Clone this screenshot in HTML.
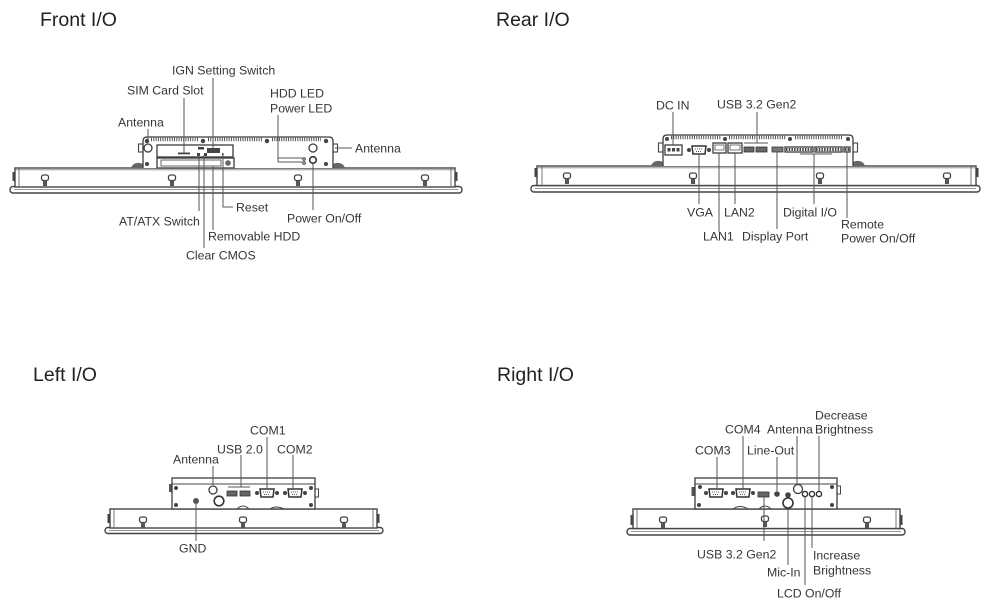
<!DOCTYPE html>
<html><head><meta charset="utf-8"><style>
html,body{margin:0;padding:0;background:#fff;}
svg{display:block;}
.t{font-family:"Liberation Sans",Arial,sans-serif;font-size:12.3px;fill:#363636;}
.h{font-family:"Liberation Sans",Arial,sans-serif;font-size:19.5px;fill:#222;}
.ln{stroke:#555;stroke-width:1;fill:none;}
.ol{stroke:#3c3c3c;stroke-width:1.3;fill:#fff;}
.bz{stroke:#444;stroke-width:1.4;fill:#fff;}
.dk{fill:#444;}
.fin{stroke:#555;stroke-width:3.5;stroke-dasharray:1 1.3;fill:none;}
</style></head><body>
<svg width="1000" height="610" viewBox="0 0 1000 610" xmlns="http://www.w3.org/2000/svg">
<defs>
<g id="knob"><rect x="-3.5" y="0" width="7" height="5.5" rx="2" fill="#fff" stroke="#444" stroke-width="1.3"/><rect x="-2" y="5.5" width="4" height="5.5" fill="#555"/></g>
<g id="dsub"><circle cx="-10" cy="0" r="2" fill="#444"/><circle cx="10" cy="0" r="2" fill="#444"/><path d="M-7,-4 H7 L6,4 H-6 Z" fill="#fff" stroke="#333" stroke-width="1.5"/><line x1="-4" y1="-1" x2="4" y2="-1" stroke="#555" stroke-dasharray="1 1"/><line x1="-3" y1="1.5" x2="3" y2="1.5" stroke="#555" stroke-dasharray="1 1"/></g>
</defs>

<!-- Titles -->
<text class="h" x="40" y="26">Front I/O</text>
<text class="h" x="496" y="26">Rear I/O</text>
<text class="h" x="33" y="381">Left I/O</text>
<text class="h" x="497" y="381">Right I/O</text>

<!-- ================= FRONT ================= -->
<rect x="10" y="186.5" width="452" height="6.5" rx="3" class="bz"/>
<line x1="14" y1="189.5" x2="458" y2="189.5" stroke="#777" stroke-width="0.8"/>
<rect x="15" y="168" width="440" height="19" class="bz"/>
<line x1="15" y1="169.8" x2="455" y2="169.8" stroke="#888" stroke-width="0.8"/>
<line x1="19" y1="168" x2="19" y2="187" stroke="#666" stroke-width="0.9"/>
<line x1="451" y1="168" x2="451" y2="187" stroke="#666" stroke-width="0.9"/>
<rect x="12.5" y="172" width="2.5" height="9" class="dk"/>
<rect x="455" y="172" width="2.5" height="9" class="dk"/>
<use href="#knob" x="45" y="175"/><use href="#knob" x="172" y="175"/>
<use href="#knob" x="298" y="175"/><use href="#knob" x="425" y="175"/>
<!-- box -->
<path d="M131,168 Q133,162 140,163 L143,164 V168 Z" fill="#666"/>
<path d="M345,168 Q343,162 336,163 L333,164 V168 Z" fill="#666"/>
<rect x="138.5" y="144" width="4.5" height="8" fill="#fff" stroke="#444" stroke-width="1.1"/>
<rect x="333" y="144" width="4.5" height="8" fill="#fff" stroke="#444" stroke-width="1.1"/>
<path d="M143,168 V141 Q143,137 147,137 H329 Q333,137 333,141 V168" class="ol"/>
<line x1="151" y1="139.5" x2="199" y2="139.5" class="fin"/>
<line x1="208" y1="139.5" x2="262" y2="139.5" class="fin"/>
<line x1="272" y1="139.5" x2="321" y2="139.5" class="fin"/>
<circle cx="147" cy="141" r="2.2" class="dk"/><circle cx="203" cy="141" r="2.2" class="dk"/>
<circle cx="267" cy="141" r="2.2" class="dk"/><circle cx="326" cy="141" r="2.2" class="dk"/>
<circle cx="147" cy="164" r="2" class="dk"/><circle cx="326" cy="164" r="2" class="dk"/>
<rect x="157" y="145" width="76" height="12" class="ol"/>
<rect x="178" y="152.5" width="12" height="1.8" class="dk"/>
<rect x="207" y="148" width="13" height="5" class="dk"/>
<rect x="198" y="147" width="6" height="2.5" class="dk"/>
<rect x="197" y="153" width="3" height="3" class="dk"/><rect x="204" y="153" width="3" height="3" class="dk"/>
<rect x="222" y="153" width="1.5" height="2.5" class="dk"/>
<rect x="157" y="158" width="77" height="10" class="ol"/>
<rect x="161" y="160" width="60" height="6" fill="none" stroke="#555" stroke-width="0.9"/>
<circle cx="228" cy="163" r="2.8" fill="#666"/>
<circle cx="148" cy="148" r="4" class="ol"/>
<circle cx="313" cy="148" r="4" class="ol"/>
<circle cx="304" cy="159" r="1.3" fill="none" stroke="#333"/>
<circle cx="304" cy="163" r="1.3" fill="none" stroke="#333"/>
<circle cx="313" cy="160" r="3.3" fill="#fff" stroke="#333" stroke-width="1.6"/>
<path class="ln" d="M148,129 V140 M184,98 V153 M213,78 V148 M278,115 V162 M278,158 H302 M278,162 H302 M335,148 H352 M223,155 V207 H233 M199,155 V211 M213,166 V230 M204,155 V248 M313,164 V210"/>
<text class="t" x="172" y="74.5">IGN Setting Switch</text>
<text class="t" x="127" y="94.5">SIM Card Slot</text>
<text class="t" x="270" y="97.5">HDD LED</text>
<text class="t" x="270" y="112.5">Power LED</text>
<text class="t" x="118" y="126.5">Antenna</text>
<text class="t" x="355" y="152.5">Antenna</text>
<text class="t" x="236" y="211.5">Reset</text>
<text class="t" x="287" y="222.5">Power On/Off</text>
<text class="t" x="119" y="225.5">AT/ATX Switch</text>
<text class="t" x="208" y="240.5">Removable HDD</text>
<text class="t" x="186" y="259.5">Clear CMOS</text>

<!-- ================= REAR ================= -->
<rect x="531" y="185.5" width="449" height="6.5" rx="3" class="bz"/>
<line x1="535" y1="188.5" x2="976" y2="188.5" stroke="#777" stroke-width="0.8"/>
<rect x="537" y="166" width="439" height="19.5" class="bz"/>
<line x1="537" y1="167.8" x2="976" y2="167.8" stroke="#888" stroke-width="0.8"/>
<line x1="542" y1="166" x2="542" y2="185.5" stroke="#666" stroke-width="0.9"/>
<line x1="971" y1="166" x2="971" y2="185.5" stroke="#666" stroke-width="0.9"/>
<rect x="534.5" y="168" width="2.5" height="9" class="dk"/>
<rect x="976" y="168" width="2.5" height="9" class="dk"/>
<use href="#knob" x="567" y="173"/><use href="#knob" x="693" y="173"/>
<use href="#knob" x="820" y="173"/><use href="#knob" x="947" y="173"/>
<path d="M651,166 Q653,160 660,161 L663,162 V166 Z" fill="#666"/>
<path d="M865,166 Q863,160 856,161 L853,162 V166 Z" fill="#666"/>
<rect x="658.5" y="143" width="4.5" height="9" fill="#fff" stroke="#444" stroke-width="1.1"/>
<rect x="853" y="143" width="4.5" height="9" fill="#fff" stroke="#444" stroke-width="1.1"/>
<path d="M663,166 V139 Q663,135 667,135 H849 Q853,135 853,139 V166" class="ol"/>
<line x1="671" y1="137.5" x2="721" y2="137.5" class="fin"/>
<line x1="729" y1="137.5" x2="786" y2="137.5" class="fin"/>
<line x1="795" y1="137.5" x2="843" y2="137.5" class="fin"/>
<circle cx="667" cy="139" r="2" class="dk"/><circle cx="725" cy="139" r="2" class="dk"/>
<circle cx="790" cy="139" r="2" class="dk"/><circle cx="848" cy="139" r="2" class="dk"/>
<rect x="665" y="145" width="17" height="10" class="ol"/>
<rect x="667.5" y="148" width="3" height="3.5" class="dk"/><rect x="672" y="148" width="3" height="3.5" class="dk"/><rect x="676.5" y="148" width="3" height="3.5" class="dk"/>
<use href="#dsub" x="699" y="150"/>
<rect x="713" y="143" width="13" height="10" class="ol"/><rect x="715" y="145" width="9" height="5" fill="none" stroke="#555" stroke-width="0.8"/>
<rect x="728" y="143" width="14" height="10" class="ol"/><rect x="730" y="145" width="10" height="5" fill="none" stroke="#555" stroke-width="0.8"/>
<rect x="744" y="147" width="10" height="5" fill="#666" stroke="#333" stroke-width="0.8"/>
<rect x="756" y="147" width="11" height="5" fill="#666" stroke="#333" stroke-width="0.8"/>
<rect x="772" y="147" width="11" height="5" fill="#777" stroke="#333" stroke-width="0.8"/>
<rect x="785" y="147" width="28" height="5" class="ol"/><line x1="786" y1="149.5" x2="812" y2="149.5" stroke="#444" stroke-width="3" stroke-dasharray="1.5 1.2"/>
<rect x="815" y="147" width="27" height="5" class="ol"/><line x1="816" y1="149.5" x2="841" y2="149.5" stroke="#444" stroke-width="3" stroke-dasharray="1.5 1.2"/>
<rect x="844" y="147" width="6" height="5" class="ol"/><line x1="845" y1="149.5" x2="849" y2="149.5" stroke="#444" stroke-width="3" stroke-dasharray="1.5 1"/>
<path class="ln" d="M673,112 V145 M757,112 V143 M744,143 H768 M699,155 V204 M719,153 V232 M735,153 V204 M777,152 V229 M800,154 H832 M814,154 V204 M847,152 V218"/>
<text class="t" x="656" y="109.5">DC IN</text>
<text class="t" x="717" y="108.5">USB 3.2 Gen2</text>
<text class="t" x="687" y="216.5">VGA</text>
<text class="t" x="724" y="216.5">LAN2</text>
<text class="t" x="783" y="216.5">Digital I/O</text>
<text class="t" x="703" y="240.5">LAN1</text>
<text class="t" x="742" y="240.5">Display Port</text>
<text class="t" x="841" y="228.5">Remote</text>
<text class="t" x="841" y="242.5">Power On/Off</text>

<!-- ================= LEFT ================= -->
<rect x="105" y="527.5" width="278" height="6" rx="3" class="bz"/>
<line x1="109" y1="530.5" x2="379" y2="530.5" stroke="#777" stroke-width="0.8"/>
<rect x="110" y="509" width="267" height="19" class="bz"/>
<line x1="114" y1="509" x2="114" y2="528" stroke="#666" stroke-width="0.9"/>
<line x1="373" y1="509" x2="373" y2="528" stroke="#666" stroke-width="0.9"/>
<rect x="107.5" y="514" width="2.5" height="9" class="dk"/>
<rect x="377" y="514" width="2.5" height="9" class="dk"/>
<use href="#knob" x="143" y="517"/><use href="#knob" x="243" y="517"/><use href="#knob" x="344" y="517"/>
<rect x="169" y="484" width="3.5" height="8" fill="#555"/>
<rect x="315" y="489" width="3.5" height="8" fill="#fff" stroke="#444" stroke-width="1"/>
<rect x="172" y="478" width="143" height="31" class="ol"/>
<line x1="172" y1="484" x2="315" y2="484" stroke="#444" stroke-width="1.1"/>
<circle cx="176" cy="488" r="2" class="dk"/><circle cx="311" cy="488" r="2" class="dk"/>
<circle cx="176" cy="505" r="2" class="dk"/><circle cx="311" cy="505" r="2" class="dk"/>
<circle cx="213" cy="490" r="4" class="ol"/>
<rect x="227" y="491" width="10" height="5" fill="#666" stroke="#333" stroke-width="0.8"/>
<rect x="240" y="491" width="10" height="5" fill="#666" stroke="#333" stroke-width="0.8"/>
<use href="#dsub" x="267" y="493"/>
<use href="#dsub" x="295" y="493"/>
<circle cx="196" cy="501" r="3" fill="#555"/>
<circle cx="219" cy="501" r="4.8" fill="#fff" stroke="#333" stroke-width="1.6"/>
<path d="M237,509 Q243,503 249,509" fill="none" stroke="#444"/>
<path d="M270,509 Q276,505 284,509" fill="none" stroke="#444"/>
<path class="ln" d="M213,466 V485 M241,455 V487 M228,487 H250 M267,437 V489 M293,455 V489 M196,504 V541"/>
<text class="t" x="250" y="434.5">COM1</text>
<text class="t" x="217" y="453.5">USB 2.0</text>
<text class="t" x="277" y="453.5">COM2</text>
<text class="t" x="173" y="463.5">Antenna</text>
<text class="t" x="179" y="552.5">GND</text>

<!-- ================= RIGHT ================= -->
<rect x="627" y="528.5" width="278" height="6.5" rx="3" class="bz"/>
<line x1="631" y1="531.5" x2="901" y2="531.5" stroke="#777" stroke-width="0.8"/>
<rect x="633" y="509" width="267" height="19.5" class="bz"/>
<line x1="637" y1="509" x2="637" y2="528.5" stroke="#666" stroke-width="0.9"/>
<line x1="896" y1="509" x2="896" y2="528.5" stroke="#666" stroke-width="0.9"/>
<rect x="630.5" y="515" width="2.5" height="10" class="dk"/>
<rect x="900" y="515" width="2.5" height="10" class="dk"/>
<use href="#knob" x="663" y="517"/><use href="#knob" x="765" y="516"/><use href="#knob" x="867" y="517"/>
<rect x="691.5" y="487" width="3.5" height="9" fill="#555"/>
<rect x="837" y="486" width="3.5" height="8" fill="#fff" stroke="#444" stroke-width="1"/>
<rect x="695" y="478" width="142" height="31" class="ol"/>
<line x1="695" y1="484" x2="837" y2="484" stroke="#444" stroke-width="1.1"/>
<circle cx="700" cy="487" r="2" class="dk"/><circle cx="832" cy="487" r="2" class="dk"/>
<circle cx="699" cy="505" r="2" class="dk"/><circle cx="832" cy="505" r="2" class="dk"/>
<use href="#dsub" x="716" y="493"/>
<use href="#dsub" x="743" y="493"/>
<rect x="758" y="492" width="11" height="5" fill="#666" stroke="#333" stroke-width="0.8"/>
<circle cx="777" cy="494" r="2.8" fill="#444"/>
<circle cx="788" cy="495" r="2.8" fill="#444"/>
<circle cx="798" cy="489" r="4.5" class="ol"/>
<circle cx="805" cy="494" r="2.6" fill="#fff" stroke="#333" stroke-width="1.4"/>
<circle cx="812" cy="494" r="2.6" fill="#fff" stroke="#333" stroke-width="1.4"/>
<circle cx="819" cy="494" r="2.6" fill="#fff" stroke="#333" stroke-width="1.4"/>
<circle cx="788" cy="503" r="5" fill="#fff" stroke="#333" stroke-width="1.6"/>
<path d="M733,509 Q740,504 748,509" fill="none" stroke="#444"/>
<path d="M759,509 Q765,503 771,509" fill="none" stroke="#444"/>
<path class="ln" d="M717,457 V489 M743,436 V489 M777,457 V491 M797,436 V484 M819,436 V491 M764,497 V541 M788,508 V565 M805,497 V585 M812,497 V548"/>
<text class="t" x="815" y="419.5">Decrease</text>
<text class="t" x="725" y="433.5">COM4</text>
<text class="t" x="767" y="433.5">Antenna</text>
<text class="t" x="815" y="433.5">Brightness</text>
<text class="t" x="695" y="454.5">COM3</text>
<text class="t" x="747" y="454.5">Line-Out</text>
<text class="t" x="697" y="558.5">USB 3.2 Gen2</text>
<text class="t" x="813" y="559.5">Increase</text>
<text class="t" x="813" y="574.5">Brightness</text>
<text class="t" x="767" y="576.5">Mic-In</text>
<text class="t" x="777" y="597.5">LCD On/Off</text>
</svg>
</body></html>
